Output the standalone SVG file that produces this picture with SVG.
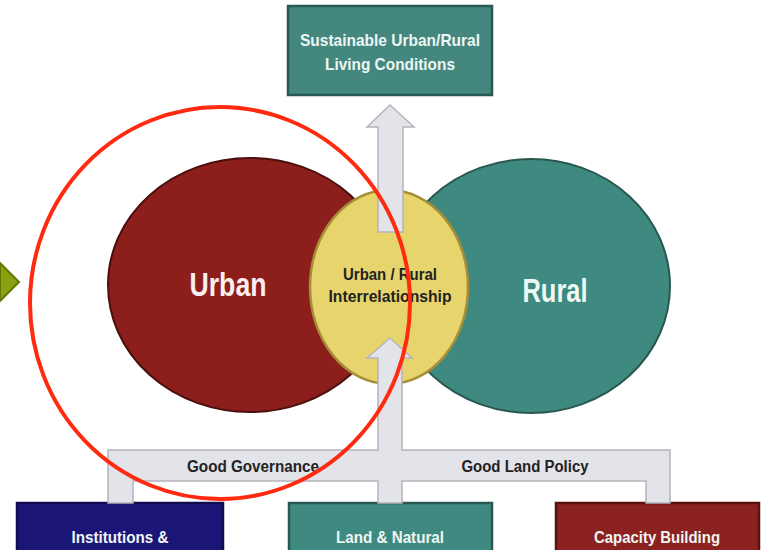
<svg xmlns="http://www.w3.org/2000/svg" width="763" height="550" viewBox="0 0 763 550">
  <style>
    .lbl { font-family: "Liberation Sans Narrow", "Liberation Sans", Arial, sans-serif; font-weight: bold; text-anchor: middle; }
    .light { fill: #eef6f4; }
    .dark { fill: #222222; }
    .conn { fill: #e3e3ea; stroke: #b4b4bc; stroke-width: 1.5; stroke-linejoin: miter; }
    .box { stroke-width: 2.5; }
  </style>
  <rect width="763" height="550" fill="#ffffff"/>

  <g id="pointer">
    <polygon points="0,263 19,282 0,301" fill="#8aa012" stroke="#5e7800" stroke-width="2"/>
  </g>

  <g id="urban">
    <ellipse cx="250" cy="285" rx="142" ry="127" fill="#8c1f1c" stroke="#4a0f0e" stroke-width="2"/>
  </g>
  <g id="rural">
    <ellipse cx="531" cy="286" rx="139" ry="127" fill="#3f8a80" stroke="#28584f" stroke-width="2"/>
  </g>
  <g id="interrelationship">
    <ellipse cx="389" cy="287" rx="79" ry="97" fill="#e8d46c" stroke="#a68e38" stroke-width="2.5"/>
  </g>

  <g id="top-goal">
    <rect class="box" x="288" y="6" width="204" height="89" fill="#43877e" stroke="#285a52"/>
    <text class="lbl light" x="390" y="46" font-size="17" textLength="180" lengthAdjust="spacingAndGlyphs">Sustainable Urban/Rural</text>
    <text class="lbl light" x="390" y="70" font-size="17" textLength="130" lengthAdjust="spacingAndGlyphs">Living Conditions</text>
  </g>

  <g id="institutions">
    <rect class="box" x="17" y="503" width="206" height="52" fill="#1b1578" stroke="#110c50"/>
    <text class="lbl light" x="120" y="543" font-size="17" textLength="97" lengthAdjust="spacingAndGlyphs">Institutions &amp;</text>
  </g>
  <g id="land-natural">
    <rect class="box" x="289" y="503" width="203" height="52" fill="#3f8a80" stroke="#28584f"/>
    <text class="lbl light" x="390" y="543" font-size="17" textLength="108" lengthAdjust="spacingAndGlyphs">Land &amp; Natural</text>
  </g>
  <g id="capacity">
    <rect class="box" x="556" y="503" width="203" height="52" fill="#8c221f" stroke="#5a1210"/>
    <text class="lbl light" x="657" y="543" font-size="17" textLength="126" lengthAdjust="spacingAndGlyphs">Capacity Building</text>
  </g>

  <g id="connectors">
    <polygon class="conn" points="390,105 414,127 403,127 403,232 378,232 378,127 367,127"/>
    <polygon class="conn" points="390,338 412,358 402,358 402,450 670,450 670,503 646,503 646,481 402,481 402,503 378,503 378,481 133,481 133,503 108,503 108,450 378,450 378,358 367,358"/>
    <text class="lbl dark" x="253" y="472" font-size="16" textLength="132" lengthAdjust="spacingAndGlyphs">Good Governance</text>
    <text class="lbl dark" x="525" y="472" font-size="16" textLength="127" lengthAdjust="spacingAndGlyphs">Good Land Policy</text>
  </g>

  <g id="labels">
    <text class="lbl" x="228" y="296" font-size="34" fill="#fbeeee" textLength="77" lengthAdjust="spacingAndGlyphs">Urban</text>
    <text class="lbl" x="555" y="302" font-size="34" fill="#eef8f5" textLength="65" lengthAdjust="spacingAndGlyphs">Rural</text>
    <text class="lbl dark" x="390" y="280" font-size="16" textLength="94" lengthAdjust="spacingAndGlyphs">Urban / Rural</text>
    <text class="lbl dark" x="390" y="302" font-size="16" textLength="123" lengthAdjust="spacingAndGlyphs">Interrelationship</text>
  </g>

  <g id="highlight">
    <ellipse cx="220" cy="303" rx="190" ry="196" fill="none" stroke="#ff2a10" stroke-width="4"/>
  </g>
</svg>
